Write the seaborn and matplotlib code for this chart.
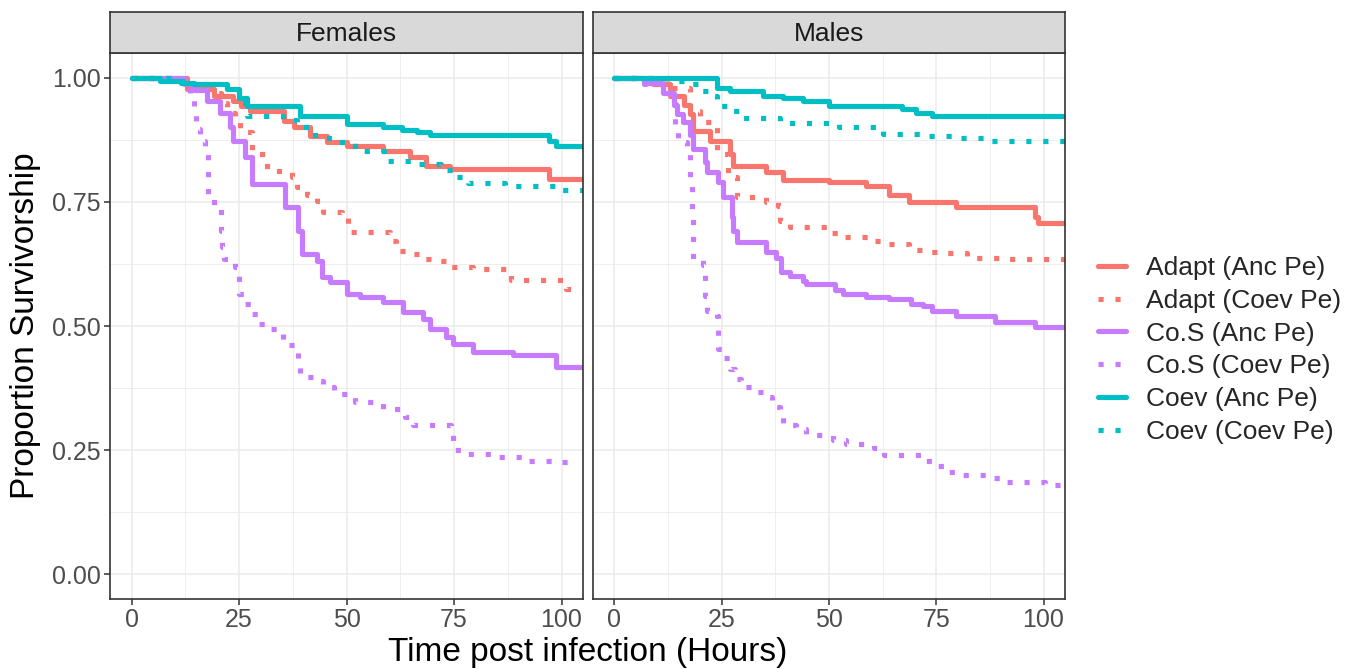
import pandas as pd
import seaborn as sns
import matplotlib.pyplot as plt
from matplotlib.lines import Line2D

# --- data (time in hours, proportion surviving) ---
groups = ["Adapt (Anc Pe)", "Adapt (Coev Pe)", "Co.S (Anc Pe)",
          "Co.S (Coev Pe)", "Coev (Anc Pe)", "Coev (Coev Pe)"]
sexes = ["Females", "Males"]

# Females
f_adapt_anc_t = [0, 12.9, 19.1, 23.7, 25.5, 27.6, 35.4, 37.7, 41.6, 45.4, 50.0, 58.5, 64.7, 68.6, 74.0, 97.2, 105]
f_adapt_anc_s = [1.0, 0.978, 0.964, 0.954, 0.944, 0.934, 0.914, 0.90, 0.883, 0.87, 0.863, 0.853, 0.84, 0.823, 0.816, 0.796, 0.796]
f_adapt_coev_t = [0, 12.0, 18.3, 20.7, 22.2, 24.1, 25.3, 28.0, 31.5, 37.3, 38.4, 40.8, 43.1, 44.6, 49.0, 50.4,
                  60.1, 61.6, 64.0, 67.0, 70.1, 73.2, 79.4, 88.3, 101.1, 105]
f_adapt_coev_s = [1.0, 0.985, 0.97, 0.95, 0.93, 0.913, 0.89, 0.846, 0.813, 0.80, 0.78, 0.763, 0.752, 0.729, 0.719, 0.689,
                  0.672, 0.652, 0.645, 0.635, 0.630, 0.618, 0.615, 0.592, 0.575, 0.575]
f_cos_anc_t = [0, 12.1, 14.5, 17.6, 20.5, 22.9, 23.7, 26.5, 28.0, 35.8, 38.8, 39.6, 43.1, 44.2, 46.2, 50.0, 53.1,
               58.5, 63.2, 67.8, 69.4, 73.2, 74.8, 79.4, 88.7, 98.8, 105]
f_cos_anc_s = [1.0, 0.987, 0.975, 0.954, 0.93, 0.90, 0.873, 0.84, 0.787, 0.74, 0.692, 0.645, 0.63, 0.598, 0.588, 0.565, 0.558,
               0.548, 0.528, 0.515, 0.494, 0.477, 0.464, 0.447, 0.441, 0.418, 0.418]
f_cos_coev_t = [0, 10.6, 13.7, 14.5, 14.9, 16.0, 17.2, 17.9, 19.1, 20.7, 21.0, 21.4, 24.1, 24.9, 26.5, 28.0, 29.5,
                31.9, 35.0, 35.3, 38.4, 38.8, 39.2, 42.3, 44.6, 47.0, 50.0, 52.0, 58.5, 63.6, 65.5, 74.4, 74.8,
                78.3, 84.8, 91.0, 98.0, 102]
f_cos_coev_s = [1.0, 0.997, 0.967, 0.927, 0.897, 0.873, 0.853, 0.763, 0.739, 0.692, 0.659, 0.635, 0.618, 0.565, 0.545,
                0.524, 0.504, 0.494, 0.487, 0.461, 0.451, 0.424, 0.397, 0.39, 0.377, 0.364, 0.357, 0.347, 0.333,
                0.317, 0.30, 0.28, 0.25, 0.243, 0.237, 0.228, 0.225, 0.225]
f_coev_anc_t = [0, 6.7, 11.4, 14.5, 22.2, 24.9, 26.8, 39.2, 50.0, 58.5, 63.0, 66.3, 69.5, 97.2, 98.7, 105]
f_coev_anc_s = [1.0, 0.994, 0.99, 0.987, 0.978, 0.96, 0.944, 0.924, 0.907, 0.90, 0.895, 0.89, 0.885, 0.873, 0.863, 0.863]
f_coev_coev_t = [0, 11.4, 14.5, 22.2, 24.9, 26.8, 35.3, 38.4, 41.6, 46.0, 52.0, 59.5, 66.0, 72.0, 74.8, 78.3, 86.8, 100.0, 105]
f_coev_coev_s = [1.0, 0.994, 0.987, 0.975, 0.95, 0.924, 0.915, 0.90, 0.885, 0.87, 0.853, 0.832, 0.826, 0.814, 0.80,
                 0.789, 0.783, 0.773, 0.773]

# Males
m_adapt_anc_t = [0, 9.0, 13.0, 16.1, 17.6, 18.4, 22.3, 26.9, 27.7, 35.4, 39.3, 50.1, 58.6, 64.0, 68.7, 79.5, 98.1, 98.8, 105]
m_adapt_anc_s = [1.0, 0.988, 0.964, 0.946, 0.927, 0.893, 0.873, 0.846, 0.823, 0.81, 0.794, 0.79, 0.783, 0.763, 0.749,
                 0.739, 0.719, 0.707, 0.707]
m_adapt_coev_t = [0, 12.2, 17.6, 19.9, 23.8, 26.5, 28.5, 35.4, 38.0, 38.5, 40.8, 50.1, 53.2, 60.2, 62.5, 68.7, 71.8,
                  75.6, 82.2, 89.6, 105]
m_adapt_coev_s = [1.0, 0.98, 0.934, 0.91, 0.846, 0.80, 0.759, 0.749, 0.742, 0.712, 0.70, 0.687, 0.68, 0.671, 0.665,
                  0.654, 0.65, 0.648, 0.638, 0.634, 0.634]
m_cos_anc_t = [0, 6.8, 11.4, 13.8, 14.5, 16.0, 17.6, 18.4, 21.1, 21.5, 24.2, 25.4, 27.3, 27.7, 28.5, 35.4, 37.7, 38.9,
               40.8, 43.9, 44.7, 51.3, 53.2, 58.6, 64.0, 69.1, 71.8, 74.1, 79.5, 88.8, 98.1, 105]
m_cos_anc_s = [1.0, 0.99, 0.97, 0.946, 0.927, 0.91, 0.885, 0.857, 0.83, 0.81, 0.79, 0.759, 0.719, 0.692, 0.669, 0.65,
               0.638, 0.608, 0.60, 0.59, 0.585, 0.573, 0.565, 0.559, 0.555, 0.545, 0.54, 0.53, 0.521, 0.509, 0.498, 0.498]
m_cos_coev_t = [0, 6.8, 13.0, 14.2, 14.9, 16.9, 17.6, 18.0, 18.4, 20.7, 21.1, 21.5, 23.8, 24.2, 25.0, 26.9, 28.1, 29.6,
                32.3, 35.0, 36.6, 38.5, 39.3, 42.4, 44.7, 50.9, 53.9, 60.5, 62.9, 72.5, 74.9, 77.2, 80.3, 86.8, 89.9,
                100.4, 105]
m_cos_coev_s = [1.0, 0.988, 0.967, 0.893, 0.87, 0.85, 0.793, 0.729, 0.635, 0.622, 0.561, 0.531, 0.52, 0.454, 0.435,
                0.414, 0.394, 0.377, 0.367, 0.357, 0.337, 0.324, 0.30, 0.293, 0.28, 0.270, 0.263, 0.255, 0.241, 0.228,
                0.217, 0.206, 0.199, 0.193, 0.185, 0.179, 0.179]
m_coev_anc_t = [0, 23.8, 26.9, 34.6, 39.3, 43.9, 50.1, 67.1, 70.2, 74.1, 105]
m_coev_anc_s = [1.0, 0.98, 0.974, 0.964, 0.96, 0.954, 0.944, 0.937, 0.93, 0.924, 0.924]
m_coev_coev_t = [0, 14.5, 17.6, 19.9, 23.0, 23.8, 26.9, 29.2, 38.5, 52.4, 62.5, 73.3, 79.5, 86.8, 105]
m_coev_coev_s = [1.0, 0.994, 0.987, 0.974, 0.964, 0.944, 0.934, 0.92, 0.908, 0.90, 0.887, 0.883, 0.879, 0.873, 0.873]

curves = [
    ("Females", groups[0], f_adapt_anc_t, f_adapt_anc_s),
    ("Females", groups[1], f_adapt_coev_t, f_adapt_coev_s),
    ("Females", groups[2], f_cos_anc_t, f_cos_anc_s),
    ("Females", groups[3], f_cos_coev_t, f_cos_coev_s),
    ("Females", groups[4], f_coev_anc_t, f_coev_anc_s),
    ("Females", groups[5], f_coev_coev_t, f_coev_coev_s),
    ("Males", groups[0], m_adapt_anc_t, m_adapt_anc_s),
    ("Males", groups[1], m_adapt_coev_t, m_adapt_coev_s),
    ("Males", groups[2], m_cos_anc_t, m_cos_anc_s),
    ("Males", groups[3], m_cos_coev_t, m_cos_coev_s),
    ("Males", groups[4], m_coev_anc_t, m_coev_anc_s),
    ("Males", groups[5], m_coev_coev_t, m_coev_coev_s),
]
rows = []
for sex, grp, ts, ss in curves:
    for t, s in zip(ts, ss):
        rows.append({"sex": sex, "group": grp, "time": t, "surv": s})
df = pd.DataFrame(rows)

# --- styling ---
red, purple, teal = "#F8766D", "#C77CFF", "#00BFC4"
palette = dict(zip(groups, [red, red, purple, purple, teal, teal]))
dot = (1.0, 2.3)
dashes = dict(zip(groups, ["", dot, "", dot, "", dot]))
LW = 3.7

sns.set_style("white")
plt.rcParams["font.family"] = ["Liberation Sans", "DejaVu Sans"]

W, H = 1355, 669
fig = plt.figure(figsize=(W / 100, H / 100), dpi=100)

def fx(px):
    return px / W

def fy(py):
    return 1 - py / H

panels = {"Females": (110, 583), "Males": (593, 1065)}
top, bottom, strip_top = 53, 599, 12

for i, sex in enumerate(sexes):
    x0, x1 = panels[sex]
    ax = fig.add_axes([fx(x0), fy(bottom), fx(x1 - x0), (bottom - top) / H])
    sns.lineplot(data=df[df["sex"] == sex], x="time", y="surv", hue="group", style="group",
                 hue_order=groups, style_order=groups, palette=palette, dashes=dashes,
                 estimator=None, errorbar=None, drawstyle="steps-post", lw=LW,
                 legend=False, ax=ax)
    ax.set_xlim(-5, 105)
    ax.set_ylim(-0.05, 1.05)
    ax.set_xticks([0, 25, 50, 75, 100])
    ax.set_xticks([12.5, 37.5, 62.5, 87.5], minor=True)
    ax.set_yticks([0, 0.25, 0.5, 0.75, 1.0])
    ax.set_yticks([0.125, 0.375, 0.625, 0.875], minor=True)
    ax.grid(which="major", color="#EBEBEB", lw=1.1, zorder=0)
    ax.grid(which="minor", color="#EBEBEB", lw=0.6, zorder=0)
    ax.set_axisbelow(True)
    ax.set_xlabel("")
    ax.set_ylabel("")
    for sp in ax.spines.values():
        sp.set_color("#333333")
        sp.set_linewidth(1.2)
    ax.tick_params(axis="x", which="major", length=4.5, width=1.1, color="#333333",
                   labelsize=18, labelcolor="#4D4D4D", pad=2, bottom=True)
    ax.tick_params(which="minor", length=0)
    if i == 0:
        ax.set_yticklabels(["0.00", "0.25", "0.50", "0.75", "1.00"])
        ax.tick_params(axis="y", which="major", length=4.5, width=1.1, color="#333333",
                       labelsize=18, labelcolor="#4D4D4D", pad=2, left=True)
    else:
        ax.tick_params(axis="y", which="major", left=False, labelleft=False)

    # facet strip
    sax = fig.add_axes([fx(x0), fy(top), fx(x1 - x0), (top - strip_top) / H])
    sax.set_facecolor("#D9D9D9")
    sax.set_xticks([])
    sax.set_yticks([])
    for sp in sax.spines.values():
        sp.set_color("#333333")
        sp.set_linewidth(1.2)
    sax.text(0.5, 0.47, sex, ha="center", va="center", fontsize=19, color="#1A1A1A",
             transform=sax.transAxes)

fig.text(fx(587.5), fy(661), "Time post infection (Hours)", ha="center", va="baseline",
         fontsize=24, color="black")
fig.text(fx(26), fy(326), "Proportion Survivorship", ha="center", va="center",
         rotation=90, fontsize=24, color="black")

handles = [Line2D([], [], color=palette[g], lw=LW,
                  linestyle="-" if dashes[g] == "" else (0, dot)) for g in groups]
fig.legend(handles, groups, loc="center left", bbox_to_anchor=(fx(1098), fy(350)),
           frameon=False, fontsize=19, handlelength=1.05, handletextpad=0.75,
           labelspacing=0.33, borderaxespad=0, borderpad=0)

fig.savefig("out.png", dpi=100)
